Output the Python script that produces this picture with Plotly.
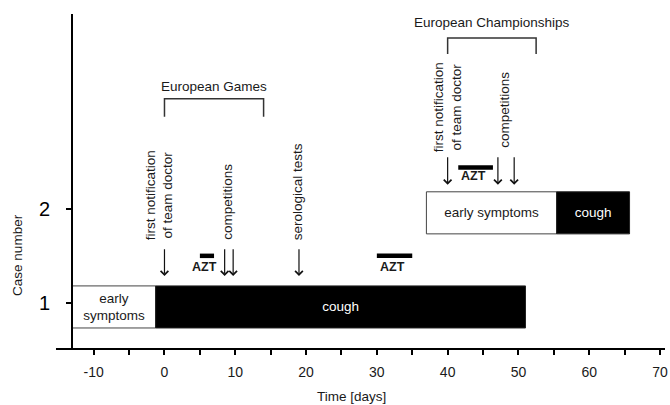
import plotly.graph_objects as go

# ---------------- data ----------------
cases = [1, 2]
early_start = [-13, 37]
early_end = [-1.25, 55.4]
cough_end = [51, 65.7]
early_label = ["early<br>symptoms", "early symptoms"]
cough_label = ["cough", "cough"]

notify_day = [0, 40]                          # first notification of team doctor
competition_days = [[8.5, 9.7], [47.1, 49.4]]
serology_case = 1
serology_day = 19

azt_case = [1, 1, 2]
azt_start = [5, 30, 41.5]
azt_end = [7, 35, 46.4]

event_names = ["European Games", "European Championships"]
event_start = [0, 40]
event_end = [14, 52.5]

x_tick_labels = ["-10", "0", "10", "20", "30", "40", "50", "60", "70"]
y_tick_labels = ["1", "2"]

# ---------------- layout helpers (positions / style) ----------------
FONT = "Liberation Sans, Arial, sans-serif"
TXT = "#1a1a1a"
arrow_tip = {1: 1.287, 2: 2.255}
arrow_tail = {1: 1.585, 2: 2.564}
label_bottom = {1: 1.649, 2: 2.575}
comp_label_bottom = {1: 1.649, 2: 2.628}
azt_bar_y = {1: 1.50, 2: 2.439}
azt_text_y = {1: 1.383, 2: 2.344}
bracket_top = [3.17, 3.816]
bracket_leg = [2.979, 3.646]
event_text_y = [3.30, 3.976]
BAR_W = 0.447
BAR_OFF = -0.2665

fig = go.Figure()

# bars
fig.add_trace(go.Bar(
    orientation="h", y=cases, base=early_start,
    x=[e - s for s, e in zip(early_start, early_end)],
    width=BAR_W, offset=BAR_OFF,
    marker=dict(color="white", line=dict(color="#444", width=1)),
    text=early_label, textposition="inside", insidetextanchor="middle",
    constraintext="none", textfont=dict(color=TXT, size=13.5, family=FONT),
    hoverinfo="skip", showlegend=False,
))
fig.add_trace(go.Bar(
    orientation="h", y=cases, base=early_end,
    x=[e - s for s, e in zip(early_end, cough_end)],
    width=BAR_W, offset=BAR_OFF,
    marker=dict(color="black", line=dict(color="#222", width=1)),
    text=cough_label, textposition="inside", insidetextanchor="middle",
    constraintext="none", textfont=dict(color="white", size=13.5, family=FONT),
    hoverinfo="skip", showlegend=False,
))

# event brackets
for name, s, e, top, leg, ty in zip(event_names, event_start, event_end,
                                    bracket_top, bracket_leg, event_text_y):
    fig.add_trace(go.Scatter(
        x=[s, s, e, e], y=[leg, top, top, leg], mode="lines",
        line=dict(color="#333", width=1.5), hoverinfo="skip", showlegend=False,
    ))
    fig.add_annotation(x=(s + e) / 2, y=ty, xref="x", yref="y", text=name,
                       showarrow=False, font=dict(size=13.5, color=TXT, family=FONT))


def arrow(case, day):
    fig.add_annotation(x=day, y=arrow_tip[case], ax=day, ay=arrow_tail[case],
                       xref="x", yref="y", axref="x", ayref="y", text="",
                       showarrow=True, arrowhead=4, arrowsize=1.25, arrowwidth=1.2,
                       arrowcolor="#111", standoff=0, startstandoff=0)


def vlabel(x, y, text, xshift):
    fig.add_annotation(x=x, y=y, xref="x", yref="y", text=text, textangle=-90,
                       showarrow=False, xanchor="center", yanchor="bottom",
                       xshift=xshift, align="center",
                       font=dict(size=13.5, color=TXT, family=FONT))


# first notification
notify_shift = {1: -5, 2: 0}
for c, d in zip(cases, notify_day):
    arrow(c, d)
    vlabel(d, label_bottom[c], "first notification<br>of team doctor", notify_shift[c])

# competitions
for c, days in zip(cases, competition_days):
    for d in days:
        arrow(c, d)
    vlabel(sum(days) / len(days), comp_label_bottom[c], "competitions", -1)

# serological tests
arrow(serology_case, serology_day)
vlabel(serology_day, label_bottom[serology_case], "serological tests", -2)

# AZT periods
for c, s, e in zip(azt_case, azt_start, azt_end):
    fig.add_shape(type="line", xref="x", yref="y", x0=s, x1=e,
                  y0=azt_bar_y[c], y1=azt_bar_y[c],
                  line=dict(color="black", width=4.5))
    fig.add_annotation(x=(s + e) / 2, y=azt_text_y[c], xref="x", yref="y",
                       text="<b>AZT</b>", showarrow=False, xshift=-2,
                       font=dict(size=12.5, color=TXT, family=FONT))

# axis lines (x line extends left of the y axis as in the original)
fig.add_shape(type="line", xref="paper", yref="paper", x0=-0.027, x1=1,
              y0=0, y1=0, line=dict(color="black", width=2), layer="above")
fig.add_shape(type="line", xref="paper", yref="paper", x0=0, x1=0,
              y0=0, y1=1, line=dict(color="black", width=2), layer="above")

# axis titles
fig.add_annotation(xref="paper", yref="paper", x=0.4705, y=-0.143,
                   text="Time [days]", showarrow=False, yanchor="middle",
                   font=dict(size=13.5, color=TXT, family=FONT))
fig.add_annotation(xref="paper", yref="paper", x=-0.091, y=0.281,
                   text="Case number", textangle=-90, showarrow=False,
                   xanchor="center", yanchor="middle",
                   font=dict(size=13.5, color=TXT, family=FONT))

tickvals = list(range(-10, 71, 5))
ticktext = [x_tick_labels[(v + 10) // 10] if v % 10 == 0 else "" for v in tickvals]

fig.update_layout(
    width=670, height=405,
    margin=dict(l=72, r=5, t=14, b=56, autoexpand=False),
    paper_bgcolor="white", plot_bgcolor="white",
    barmode="overlay", showlegend=False,
    font=dict(family=FONT, color=TXT),
    xaxis=dict(range=[-13.065, 70.706], showgrid=False, zeroline=False, showline=False,
               tickmode="array", tickvals=tickvals, ticktext=ticktext,
               ticks="outside", ticklen=5, tickwidth=2, tickcolor="black",
               ticklabeloverflow="allow",
               tickfont=dict(size=14, color=TXT, family=FONT), ticklabelstandoff=5),
    yaxis=dict(range=[0.51, 4.07], showgrid=False, zeroline=False, showline=False,
               tickmode="array", tickvals=cases, ticktext=y_tick_labels,
               ticks="outside", ticklen=5, tickwidth=2, tickcolor="black",
               tickfont=dict(size=20, color="black", family=FONT), ticklabelstandoff=12),
)

fig.write_html("out.html", config={"displayModeBar": False},
               post_script="document.body.style.margin='0';document.body.style.padding='0';")
